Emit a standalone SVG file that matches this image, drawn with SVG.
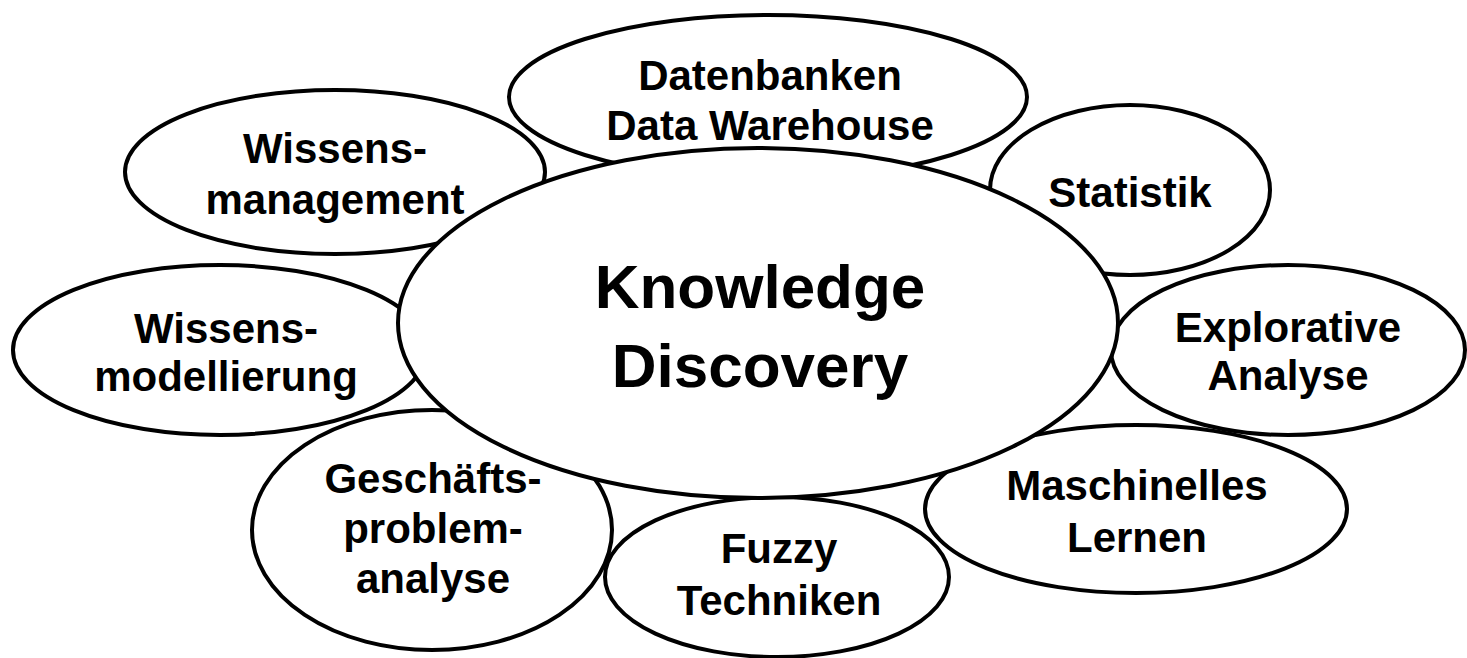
<svg xmlns="http://www.w3.org/2000/svg" width="1467" height="658" viewBox="0 0 1467 658">
<style>
.e{fill:#fff;stroke:#000;stroke-width:4}
.t{font-family:"Liberation Sans",Arial,sans-serif;font-weight:bold;font-size:42px;text-anchor:middle;fill:#000}
.big{font-size:62px}
</style>
<rect width="1467" height="658" fill="#fff"/>
<g id="connectors"></g>
<g id="datenbanken"><ellipse class="e" cx="768" cy="97" rx="259" ry="82"/><text class="t" x="770" y="90">Datenbanken</text><text class="t" x="770" y="140">Data Warehouse</text></g>
<g id="wissensmanagement"><ellipse class="e" cx="335" cy="172" rx="210" ry="82"/><text class="t" x="335" y="163">Wissens-</text><text class="t" x="335" y="214">management</text></g>
<g id="statistik"><ellipse class="e" cx="1130" cy="190" rx="140" ry="85"/><text class="t" x="1130" y="207">Statistik</text></g>
<g id="explorative"><ellipse class="e" cx="1288" cy="350" rx="177" ry="85"/><text class="t" x="1288" y="342">Explorative</text><text class="t" x="1288" y="390">Analyse</text></g>
<g id="maschinelles"><ellipse class="e" cx="1136" cy="509" rx="211" ry="84"/><text class="t" x="1137" y="500">Maschinelles</text><text class="t" x="1137" y="552">Lernen</text></g>
<g id="fuzzy"><ellipse class="e" cx="777" cy="577" rx="172" ry="80"/><text class="t" x="779" y="563">Fuzzy</text><text class="t" x="779" y="615">Techniken</text></g>
<g id="geschaefts"><ellipse class="e" cx="432" cy="530" rx="180" ry="120"/><text class="t" x="433" y="493">Geschäfts-</text><text class="t" x="433" y="543">problem-</text><text class="t" x="433" y="593">analyse</text></g>
<g id="wissensmodellierung"><ellipse class="e" cx="220" cy="350" rx="207" ry="85"/><text class="t" x="226" y="343">Wissens-</text><text class="t" x="226" y="391">modellierung</text></g>
<g id="knowledge"><ellipse class="e" cx="758" cy="323" rx="360" ry="175"/><text class="t big" x="760" y="308">Knowledge</text><text class="t big" x="760" y="387">Discovery</text></g>
</svg>
